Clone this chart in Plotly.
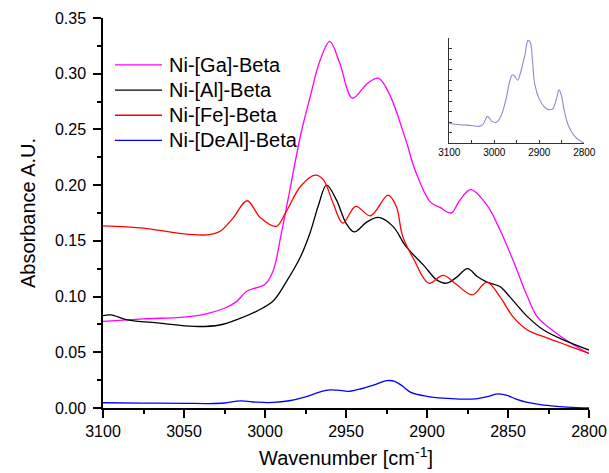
import plotly.graph_objects as go

# Wavenumber grids (cm^-1) and absorbance values for each sample
ga_wn = [3100, 3075, 3050, 3035, 3025, 3018, 3011, 3005, 3000, 2995, 2990, 2985,
         2978, 2972, 2966, 2960, 2954, 2946, 2937, 2930, 2923, 2913, 2907, 2898,
         2892, 2885, 2880, 2873, 2863, 2855, 2847, 2838, 2832, 2822, 2810, 2800]
ga_abs = [0.0777, 0.0800, 0.0816, 0.0850, 0.0895, 0.0950, 0.1050, 0.1080, 0.1110,
          0.1230, 0.1560, 0.1930, 0.2450, 0.2800, 0.3120, 0.3290, 0.3100, 0.2780,
          0.2910, 0.2960, 0.2810, 0.2400, 0.2120, 0.1850, 0.1800, 0.1750, 0.1860,
          0.1960, 0.1820, 0.1600, 0.1330, 0.1000, 0.0820, 0.0690, 0.0570, 0.0490]

al_wn = [3100, 3095, 3085, 3065, 3044, 3028, 3015, 3005, 2995, 2987, 2978, 2972,
         2967, 2962, 2956, 2950, 2945, 2937, 2930, 2921, 2913, 2902, 2894, 2888,
         2882, 2875, 2869, 2863, 2855, 2849, 2838, 2828, 2814, 2800]
al_abs = [0.0828, 0.0835, 0.0790, 0.0762, 0.0732, 0.0745, 0.0807, 0.0870, 0.0960,
          0.1130, 0.1360, 0.1580, 0.1820, 0.2000, 0.1870, 0.1660, 0.1580, 0.1670,
          0.1710, 0.1630, 0.1450, 0.1280, 0.1150, 0.1120, 0.1170, 0.1250, 0.1180,
          0.1130, 0.1090, 0.1000, 0.0820, 0.0700, 0.0600, 0.0520]

fe_wn = [3100, 3075, 3054, 3036, 3028, 3020, 3011, 3003, 2993, 2987, 2978, 2969,
         2964, 2958, 2952, 2944, 2935, 2924, 2919, 2915, 2908, 2899, 2890, 2882,
         2872, 2863, 2855, 2847, 2838, 2826, 2813, 2800]
fe_abs = [0.1635, 0.1614, 0.1570, 0.1554, 0.1584, 0.1700, 0.1860, 0.1710, 0.1630,
          0.1760, 0.1990, 0.2090, 0.2050, 0.1840, 0.1660, 0.1810, 0.1725, 0.1910,
          0.1810, 0.1540, 0.1330, 0.1120, 0.1190, 0.1110, 0.1016, 0.1130, 0.1000,
          0.0820, 0.0700, 0.0630, 0.0560, 0.0490]

deal_wn = [3100, 3075, 3050, 3035, 3025, 3015, 3005, 2995, 2985, 2975, 2965, 2960,
           2955, 2948, 2940, 2932, 2925, 2920, 2915, 2910, 2900, 2890, 2880, 2870,
           2862, 2856, 2850, 2845, 2838, 2830, 2820, 2810, 2800]
deal_abs = [0.0047, 0.0044, 0.0042, 0.0040, 0.0045, 0.0064, 0.0052, 0.0050, 0.0065,
            0.0100, 0.0150, 0.0163, 0.0160, 0.0150, 0.0175, 0.0210, 0.0245, 0.0240,
            0.0195, 0.0140, 0.0105, 0.0088, 0.0080, 0.0082, 0.0105, 0.0127, 0.0110,
            0.0080, 0.0050, 0.0030, 0.0015, 0.0006, 0.0000]

series = [
    ("Ni-[Ga]-Beta", ga_wn, ga_abs, "#ff00ff"),
    ("Ni-[Al]-Beta", al_wn, al_abs, "#000000"),
    ("Ni-[Fe]-Beta", fe_wn, fe_abs, "#ff0000"),
    ("Ni-[DeAl]-Beta", deal_wn, deal_abs, "#0000ff"),
]

x_ticks = [3100, 3050, 3000, 2950, 2900, 2850, 2800]
y_ticks = [0.00, 0.05, 0.10, 0.15, 0.20, 0.25, 0.30, 0.35]
inset_x_ticks = [3100, 3000, 2900, 2800]

FONT = "Liberation Sans, Arial, sans-serif"

fig = go.Figure()
for name, wn, ab, col in series:
    fig.add_trace(go.Scatter(x=wn, y=ab, mode="lines", name=name, showlegend=False,
                             line=dict(color=col, width=1.3, shape="spline", smoothing=1.0)))

# Magnified DeAl spectrum in the inset
fig.add_trace(go.Scatter(x=deal_wn, y=deal_abs, mode="lines", showlegend=False,
                         xaxis="x2", yaxis="y2",
                         line=dict(color="#8a8ad2", width=1.1, shape="spline", smoothing=1.0)))

# Key in the upper-left corner: a short line sample followed by the sample name
key_top, key_step = 0.8796, 0.0645
for i, (name, _, _, col) in enumerate(series):
    yk = key_top - i * key_step
    fig.add_shape(type="line", xref="paper", yref="paper",
                  x0=0.0247, x1=0.1214, y0=yk, y1=yk,
                  line=dict(color=col, width=1.3))
    fig.add_annotation(xref="paper", yref="paper", x=0.1317, y=yk,
                       xanchor="left", yanchor="middle", showarrow=False,
                       text=name, font=dict(size=20, family=FONT, color="black"))

fig.update_layout(
    width=609, height=473,
    margin=dict(l=103, r=20, t=18, b=65, autoexpand=False),
    paper_bgcolor="white", plot_bgcolor="white",
    font=dict(family=FONT, color="black", size=16),
    showlegend=False,
    xaxis=dict(
        range=[3100, 2800], tickvals=x_ticks, ticktext=[str(v) for v in x_ticks],
        automargin=False,
        showgrid=False, zeroline=False, showline=True, linecolor="black", linewidth=1.5,
        ticks="outside", ticklen=8, tickwidth=1.5, tickcolor="black",
        tickfont=dict(size=16),
        minor=dict(dtick=25, ticks="outside", ticklen=4, tickwidth=1.5, tickcolor="black"),
        title=dict(text="Wavenumber [cm<sup>-1</sup>]", font=dict(size=20), standoff=12),
    ),
    yaxis=dict(
        range=[0, 0.35], tickvals=y_ticks, ticktext=[f"{v:.2f}" for v in y_ticks],
        automargin=False,
        showgrid=False, zeroline=False, showline=True, linecolor="black", linewidth=1.5,
        ticks="outside", ticklen=8, tickwidth=1.5, tickcolor="black",
        tickfont=dict(size=16), ticklabelstandoff=4,
        minor=dict(dtick=0.025, ticks="outside", ticklen=4, tickwidth=1.5, tickcolor="black"),
        title=dict(text="Absorbance A.U.", font=dict(size=20), standoff=14),
    ),
    xaxis2=dict(
        domain=[0.7125, 0.9903], anchor="y2", range=[3100, 2800],
        tickvals=inset_x_ticks, ticktext=[str(v) for v in inset_x_ticks],
        automargin=False,
        showgrid=False, zeroline=False, showline=True, linecolor="#333", linewidth=1,
        ticks="inside", ticklen=3, tickwidth=1, tickcolor="#333",
        tickfont=dict(size=10),
        minor=dict(dtick=50, ticks="inside", ticklen=3, tickwidth=1, tickcolor="#333"),
    ),
    yaxis2=dict(
        domain=[0.679, 0.948], anchor="x2", range=[0, 0.025], dtick=0.0025,
        automargin=False, showticklabels=False,
        showgrid=False, zeroline=False, showline=True, linecolor="#333", linewidth=1,
        ticks="inside", ticklen=3, tickwidth=1, tickcolor="#333",
    ),
)

fig.write_html("out.html")
